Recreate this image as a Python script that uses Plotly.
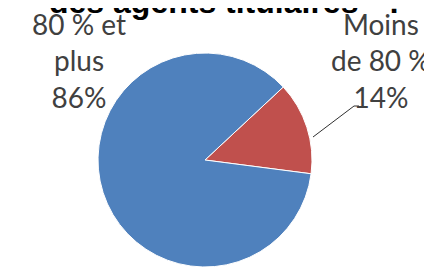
import plotly.graph_objects as go

# Data
categories = ["Moins de 80 %", "80 % et plus"]
label_lines = [["Moins", "de 80 %"], ["80 % et", "plus"]]
values = [14, 86]
colors = ["#C0504D", "#4F81BD"]
title_text = "des agents titulaires * :"

W, H = 432, 267


def px_x(x):
    return x / W


def px_y(y):
    return 1 - y / H


fig = go.Figure()
fig.add_trace(go.Pie(
    labels=categories,
    values=values,
    sort=False,
    direction="clockwise",
    rotation=47,
    textinfo="none",
    hoverinfo="label+percent",
    marker=dict(colors=colors, line=dict(color="white", width=1)),
    domain=dict(x=[px_x(197 - 107), px_x(197 + 107)], y=[px_y(259), px_y(45)]),
    showlegend=False,
))

total = sum(values)
label_pos = [(373, 52), (71, 52)]
for lines, v, (lx, ly) in zip(label_lines, values, label_pos):
    txt = "<br>".join(lines + [f"{round(100 * v / total)}%"])
    fig.add_annotation(
        text=txt, x=px_x(lx), y=px_y(ly), xref="paper", yref="paper",
        xanchor="center", yanchor="middle", showarrow=False, align="center",
        font=dict(family="Lato", size=28, color="#404040"),
    )

# leader line for the small slice
fig.add_shape(type="path", xref="paper", yref="paper",
              path=f"M {px_x(305)},{px_y(129)} L {px_x(346)},{px_y(98)} L {px_x(351)},{px_y(98)}",
              line=dict(color="#303030", width=1))

# title (cut at the top)
fig.add_annotation(
    text=f"<b>{title_text}</b>", x=px_x(216), y=px_y(14), xref="paper", yref="paper",
    xanchor="center", yanchor="bottom", showarrow=False,
    font=dict(family="Liberation Sans", size=32, color="black"),
)

fig.update_layout(
    width=W, height=H,
    margin=dict(l=0, r=0, t=0, b=0),
    paper_bgcolor="white", plot_bgcolor="white",
)

fig.write_html("out.html")
